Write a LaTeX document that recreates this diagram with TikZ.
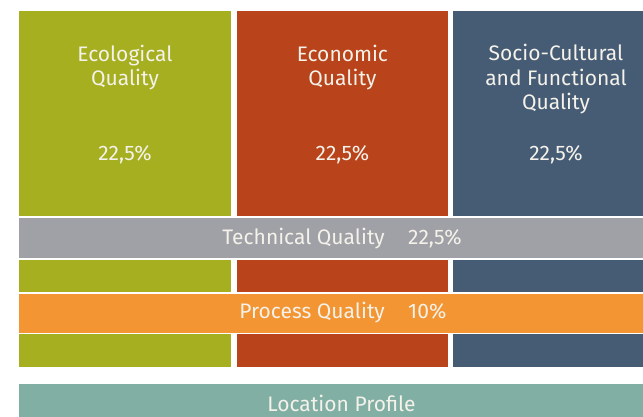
\documentclass[tikz,border=0pt]{standalone}
\usepackage{fontspec}
\setmainfont{Fira Sans}
\definecolor{ecogreen}{HTML}{A5AF20}
\definecolor{econred}{HTML}{B9431A}
\definecolor{socblue}{HTML}{465C75}
\definecolor{techgray}{HTML}{A0A1A6}
\definecolor{procorange}{HTML}{F39532}
\definecolor{locteal}{HTML}{82AFA4}
\definecolor{txtwhite}{HTML}{F4F2EA}
\begin{document}
\begin{tikzpicture}[x=1pt, y=-1pt,
        lbl/.style={text=txtwhite, font=\fontsize{21}{24.3}\selectfont, align=center, inner sep=0pt}]
        \useasboundingbox (0,0) rectangle (643,417);
        % three columns
        \fill[ecogreen]  (19.3,11) rectangle (230.7,366.7);
        \fill[econred]   (237.3,11) rectangle (447.5,366.7);
        \fill[socblue]   (453.3,11) rectangle (660,366.7);
        % bands across the columns
        \fill[white]      (19.3,216)   rectangle (660,259.7);
        \fill[techgray]   (19.3,217.5) rectangle (660,258.3);
        \fill[white]      (19.3,292)   rectangle (660,334);
        \fill[procorange] (19.3,293.5) rectangle (660,332.6);
        % location profile
        \fill[locteal]    (19.3,384)   rectangle (660,420);
        % column labels (base = last line)
        \node[lbl, anchor=base] (eco)    at (125,85.5)   {Ecological\\Quality};
        \node[lbl, anchor=base] (econ)   at (342.4,85.5) {Economic\\Quality};
        \node[lbl, anchor=base] (soc)    at (556,109.5)  {Socio-Cultural\\and Functional\\Quality};
        \node[lbl, anchor=base] (ecop)   at (125,161)   {22,5\%};
        \node[lbl, anchor=base] (econp)  at (342.4,161) {22,5\%};
        \node[lbl, anchor=base] (socp)   at (556,161)   {22,5\%};
        % band labels
        \node[lbl, anchor=base east] (tech)  at (385,244) {Technical Quality};
        \node[lbl, anchor=base west] (techp) at (408,244) {22,5\%};
        \node[lbl, anchor=base east] (proc)  at (385,318) {Process Quality};
        \node[lbl, anchor=base west] (procp) at (408,318) {10\%};
        \node[lbl, anchor=base] (loc) at (341.5,411) {Location Profile};
    \end{tikzpicture}
\end{document}
